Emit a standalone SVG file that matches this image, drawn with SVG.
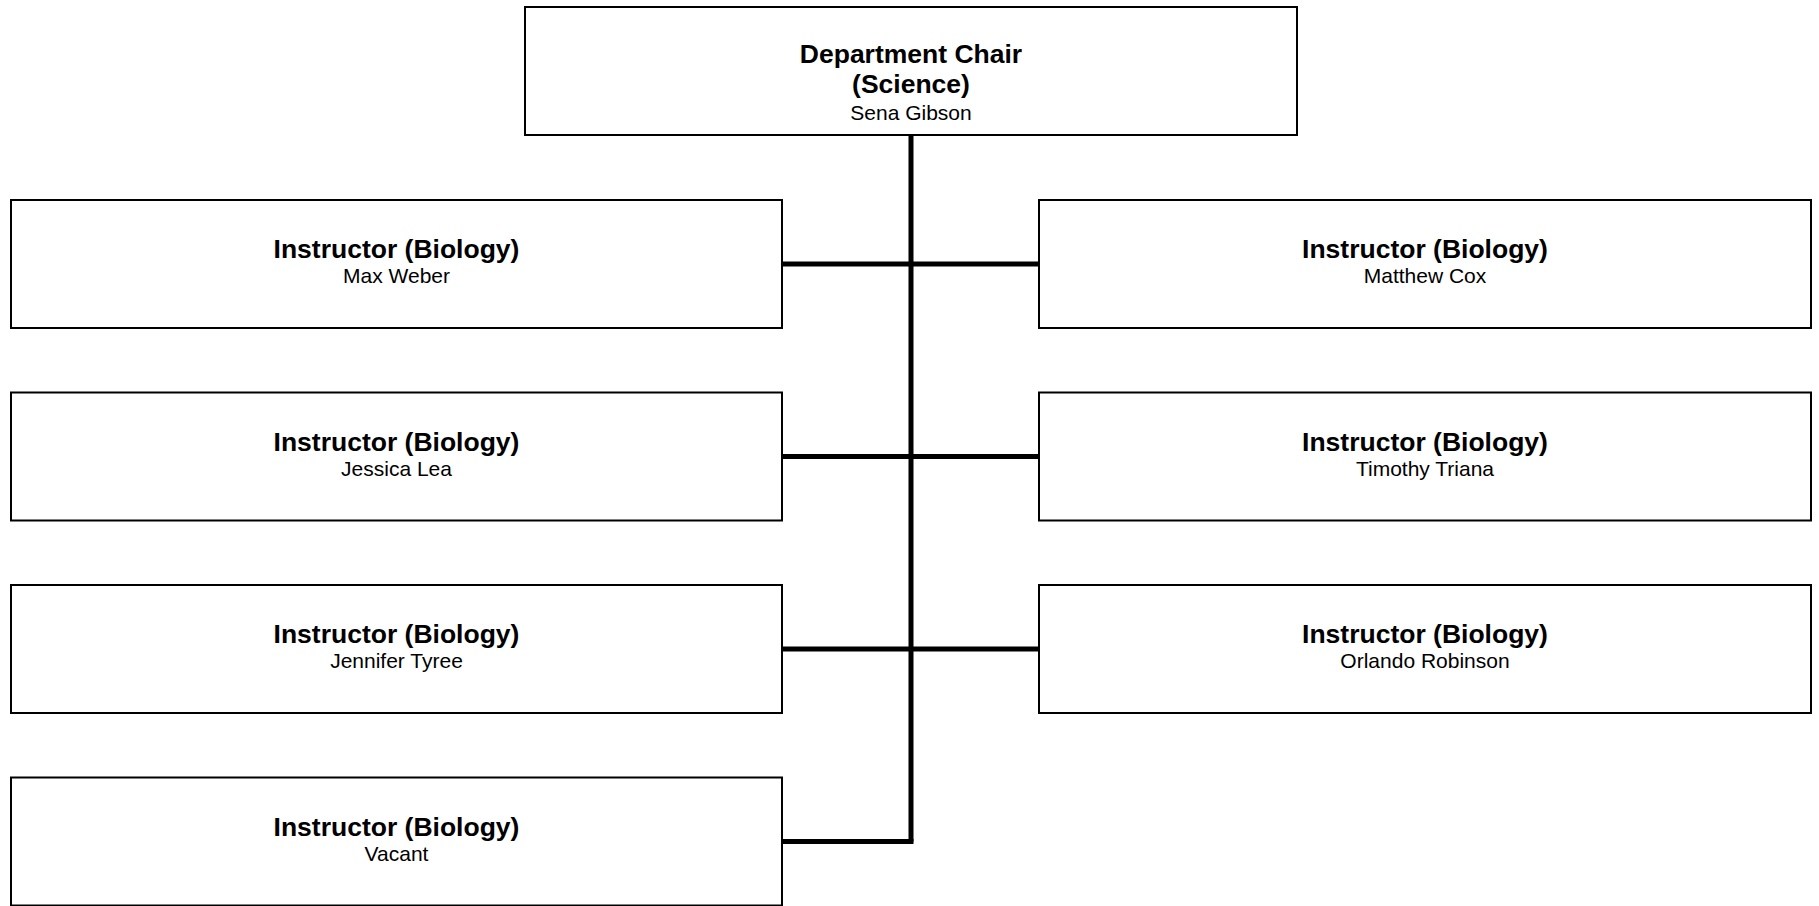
<svg xmlns="http://www.w3.org/2000/svg" width="1819" height="906" viewBox="0 0 1819 906">
<style>
.box{fill:#fff;stroke:#000;stroke-width:2}
.t{font-family:"Liberation Sans",Arial,sans-serif;text-anchor:middle;fill:#000}
.b{font-weight:bold;font-size:26.5px}
.r{font-size:21px}
.c{fill:none;stroke:#000;stroke-width:5}
</style>
<rect width="1819" height="906" fill="#fff"/>
<g id="connectors">
<path class="c" d="M911 135V841.5"/>
<path class="c" d="M782 264H1039M782 456.5H1039M782 649H1039M782 841.5H913.5"/>
</g>
<g id="chair">
<rect class="box" x="525" y="7" width="772" height="128"/>
<text class="t b" x="911" y="63">Department Chair</text>
<text class="t b" x="911" y="93">(Science)</text>
<text class="t r" x="911" y="120">Sena Gibson</text>
</g>
<g id="n1">
<rect class="box" x="11" y="200" width="771" height="128"/>
<text class="t b" x="396.5" y="258">Instructor (Biology)</text>
<text class="t r" x="396.5" y="283">Max Weber</text>
</g>
<g id="n2">
<rect class="box" x="1039" y="200" width="772" height="128"/>
<text class="t b" x="1425" y="258">Instructor (Biology)</text>
<text class="t r" x="1425" y="283">Matthew Cox</text>
</g>
<g id="n3">
<rect class="box" x="11" y="392.5" width="771" height="128"/>
<text class="t b" x="396.5" y="450.5">Instructor (Biology)</text>
<text class="t r" x="396.5" y="475.5">Jessica Lea</text>
</g>
<g id="n4">
<rect class="box" x="1039" y="392.5" width="772" height="128"/>
<text class="t b" x="1425" y="450.5">Instructor (Biology)</text>
<text class="t r" x="1425" y="475.5">Timothy Triana</text>
</g>
<g id="n5">
<rect class="box" x="11" y="585" width="771" height="128"/>
<text class="t b" x="396.5" y="643">Instructor (Biology)</text>
<text class="t r" x="396.5" y="668">Jennifer Tyree</text>
</g>
<g id="n6">
<rect class="box" x="1039" y="585" width="772" height="128"/>
<text class="t b" x="1425" y="643">Instructor (Biology)</text>
<text class="t r" x="1425" y="668">Orlando Robinson</text>
</g>
<g id="n7">
<rect class="box" x="11" y="777.5" width="771" height="128"/>
<text class="t b" x="396.5" y="835.5">Instructor (Biology)</text>
<text class="t r" x="396.5" y="860.5">Vacant</text>
</g>
</svg>
